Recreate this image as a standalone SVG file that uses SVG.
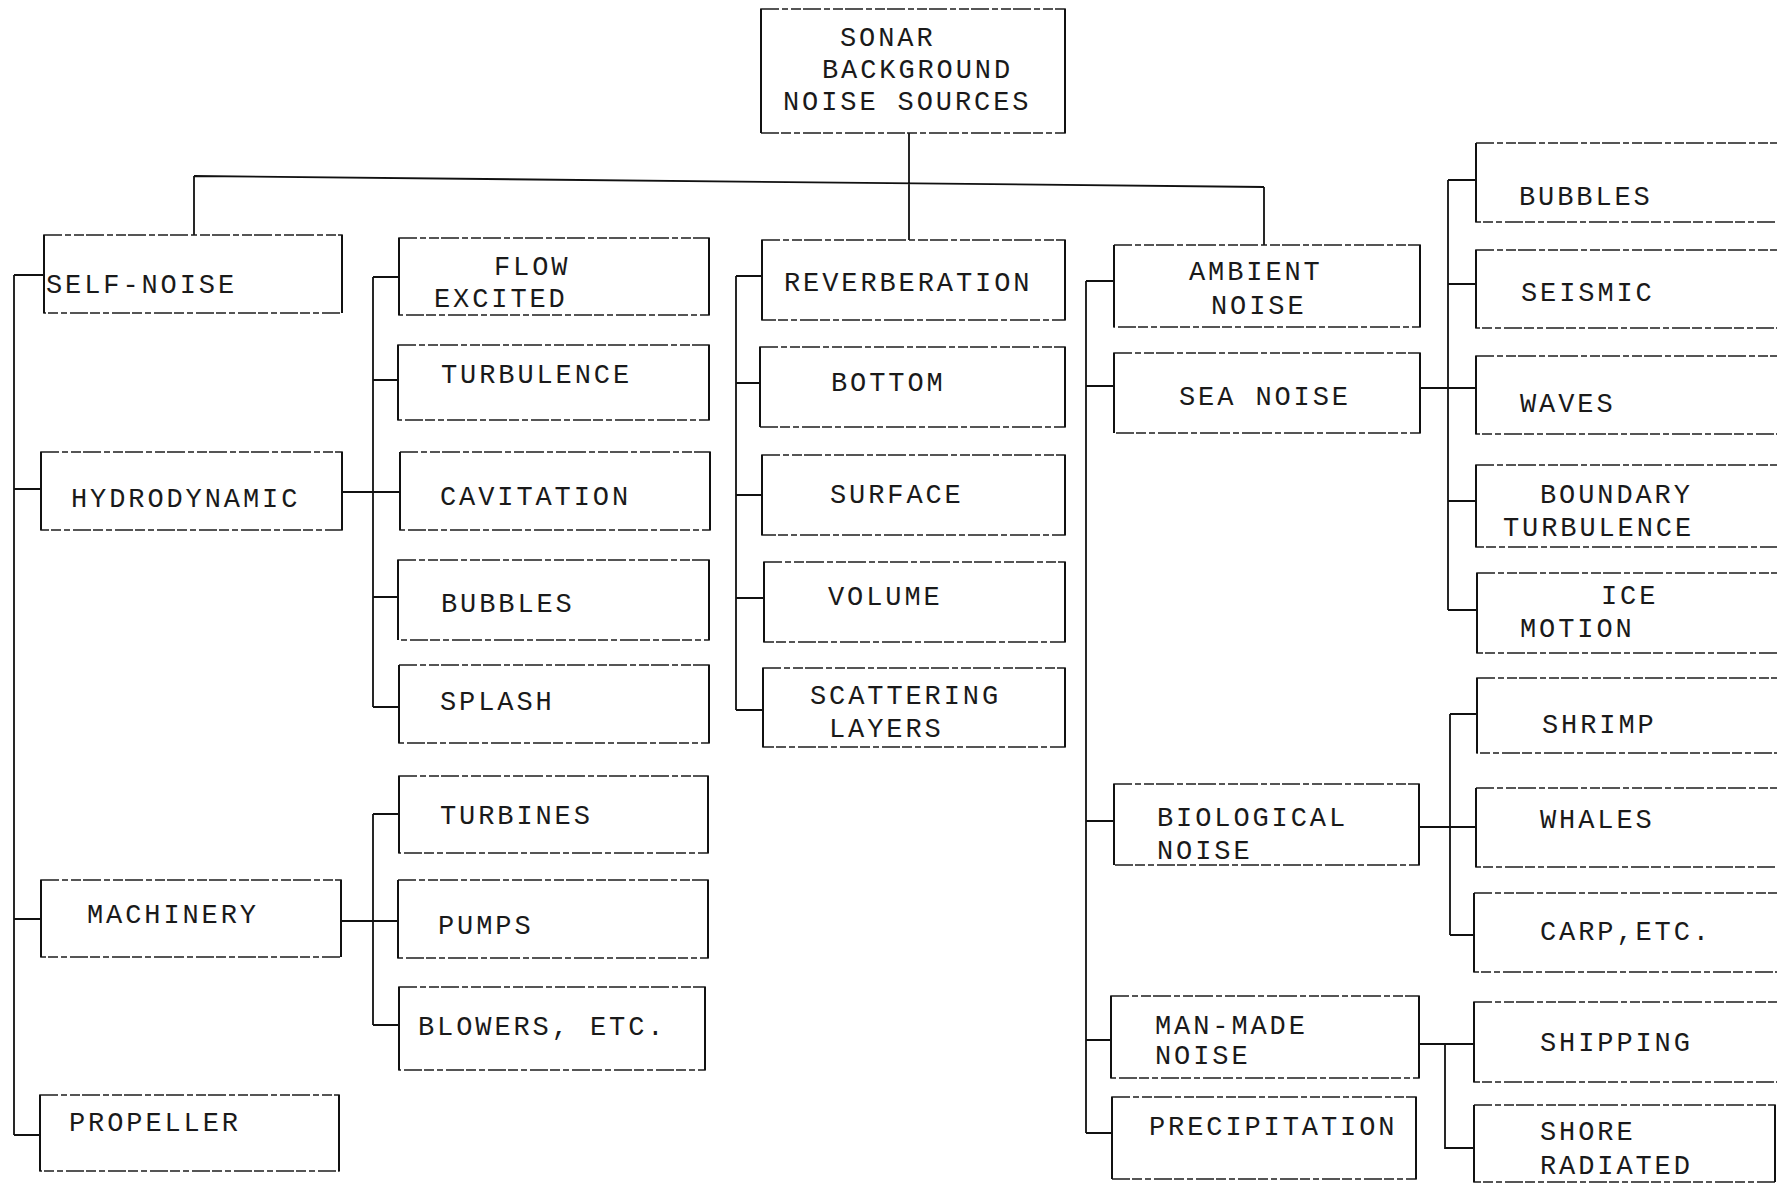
<svg xmlns="http://www.w3.org/2000/svg" width="1777" height="1192" viewBox="0 0 1777 1192">
<style>
.b{fill:none;stroke:#1e1e1e;stroke-width:1.6;stroke-dasharray:18 3 6 3 10 2}
.v{fill:none;stroke:#111;stroke-width:2}
.c{fill:none;stroke:#111;stroke-width:1.8}
text{font-family:"Liberation Mono","DejaVu Sans Mono",monospace;font-size:27px;letter-spacing:2.9px;fill:#1a1a1a}
</style>
<rect width="1777" height="1192" fill="#fff"/>
<g id="connectors">
<path class="c" d="M909 133V240M194 176L1264 187M194 176V235M1264 187V245"/>
<path class="c" d="M14 275V1135M14 275H44M14 489H41M14 919H41M14 1135H40"/>
<path class="c" d="M373 277V707M373 277H399M373 380H398M342 492H400M373 597H398M373 707H399"/>
<path class="c" d="M373 814V1025M373 814H399M341 921H398M373 1025H399"/>
<path class="c" d="M736 276V710M736 276H762M736 383H760M736 495H762M736 598H764M736 710H763"/>
<path class="c" d="M1086 281V1133M1086 281H1114M1086 386H1114M1086 821H1114M1086 1040H1111M1086 1133H1112"/>
<path class="c" d="M1448 180V610M1448 180H1476M1448 284H1476M1420 388H1476M1448 501H1476M1448 610H1477"/>
<path class="c" d="M1450 714V935M1450 714H1477M1419 827H1476M1450 935H1474"/>
<path class="c" d="M1419 1044H1474M1445 1044V1148H1474"/>
</g>
<g id="root"><rect class="b" x="761" y="9" width="304" height="124"/><path class="v" d="M761 9V133M1065 9V133"/>
<text x="840" y="46">SONAR</text><text x="822" y="78">BACKGROUND</text><text x="783" y="110">NOISE SOURCES</text></g>
<g id="self-noise"><rect class="b" x="44" y="235" width="298" height="78"/><path class="v" d="M44 235V313M342 235V313"/><text x="46" y="293">SELF-NOISE</text></g>
<g id="hydrodynamic"><rect class="b" x="41" y="452" width="301" height="78"/><path class="v" d="M41 452V530M342 452V530"/><text x="71" y="507">HYDRODYNAMIC</text></g>
<g id="machinery"><rect class="b" x="41" y="880" width="300" height="77"/><path class="v" d="M41 880V957M341 880V957"/><text x="87" y="923">MACHINERY</text></g>
<g id="propeller"><rect class="b" x="40" y="1095" width="299" height="76"/><path class="v" d="M40 1095V1171M339 1095V1171"/><text x="69" y="1131">PROPELLER</text></g>
<g id="flow-excited"><rect class="b" x="399" y="238" width="310" height="77"/><path class="v" d="M399 238V315M709 238V315"/><text x="494" y="275">FLOW</text><text x="434" y="307">EXCITED</text></g>
<g id="turbulence"><rect class="b" x="398" y="345" width="311" height="75"/><path class="v" d="M398 345V420M709 345V420"/><text x="441" y="383">TURBULENCE</text></g>
<g id="cavitation"><rect class="b" x="400" y="452" width="310" height="78"/><path class="v" d="M400 452V530M710 452V530"/><text x="440" y="505">CAVITATION</text></g>
<g id="bubbles-h"><rect class="b" x="398" y="560" width="311" height="80"/><path class="v" d="M398 560V640M709 560V640"/><text x="441" y="612">BUBBLES</text></g>
<g id="splash"><rect class="b" x="399" y="665" width="310" height="78"/><path class="v" d="M399 665V743M709 665V743"/><text x="440" y="710">SPLASH</text></g>
<g id="turbines"><rect class="b" x="399" y="776" width="309" height="77"/><path class="v" d="M399 776V853M708 776V853"/><text x="440" y="824">TURBINES</text></g>
<g id="pumps"><rect class="b" x="398" y="880" width="310" height="78"/><path class="v" d="M398 880V958M708 880V958"/><text x="438" y="934">PUMPS</text></g>
<g id="blowers"><rect class="b" x="399" y="987" width="306" height="83"/><path class="v" d="M399 987V1070M705 987V1070"/><text x="418" y="1035">BLOWERS, ETC.</text></g>
<g id="reverberation"><rect class="b" x="762" y="240" width="303" height="80"/><path class="v" d="M762 240V320M1065 240V320"/><text x="784" y="291">REVERBERATION</text></g>
<g id="bottom"><rect class="b" x="760" y="347" width="305" height="80"/><path class="v" d="M760 347V427M1065 347V427"/><text x="831" y="391">BOTTOM</text></g>
<g id="surface"><rect class="b" x="762" y="455" width="303" height="80"/><path class="v" d="M762 455V535M1065 455V535"/><text x="830" y="503">SURFACE</text></g>
<g id="volume"><rect class="b" x="764" y="562" width="301" height="80"/><path class="v" d="M764 562V642M1065 562V642"/><text x="828" y="605">VOLUME</text></g>
<g id="scattering"><rect class="b" x="763" y="668" width="302" height="79"/><path class="v" d="M763 668V747M1065 668V747"/><text x="810" y="704">SCATTERING</text><text x="829" y="737">LAYERS</text></g>
<g id="ambient"><rect class="b" x="1114" y="245" width="306" height="82"/><path class="v" d="M1114 245V327M1420 245V327"/><text x="1189" y="280">AMBIENT</text><text x="1211" y="314">NOISE</text></g>
<g id="sea-noise"><rect class="b" x="1114" y="353" width="306" height="80"/><path class="v" d="M1114 353V433M1420 353V433"/><text x="1179" y="405">SEA NOISE</text></g>
<g id="biological"><rect class="b" x="1114" y="784" width="305" height="81"/><path class="v" d="M1114 784V865M1419 784V865"/><text x="1157" y="826">BIOLOGICAL</text><text x="1157" y="859">NOISE</text></g>
<g id="man-made"><rect class="b" x="1111" y="996" width="308" height="82"/><path class="v" d="M1111 996V1078M1419 996V1078"/><text x="1155" y="1034">MAN-MADE</text><text x="1155" y="1064">NOISE</text></g>
<g id="precipitation"><rect class="b" x="1112" y="1097" width="304" height="82"/><path class="v" d="M1112 1097V1179M1416 1097V1179"/><text x="1149" y="1135">PRECIPITATION</text></g>
<g id="bubbles-s"><rect class="b" x="1476" y="143" width="320" height="79"/><path class="v" d="M1476 143V222"/><text x="1519" y="205">BUBBLES</text></g>
<g id="seismic"><rect class="b" x="1476" y="250" width="320" height="78"/><path class="v" d="M1476 250V328"/><text x="1521" y="301">SEISMIC</text></g>
<g id="waves"><rect class="b" x="1476" y="356" width="320" height="78"/><path class="v" d="M1476 356V434"/><text x="1520" y="412">WAVES</text></g>
<g id="boundary"><rect class="b" x="1476" y="465" width="320" height="82"/><path class="v" d="M1476 465V547"/><text x="1540" y="503">BOUNDARY</text><text x="1503" y="536">TURBULENCE</text></g>
<g id="ice-motion"><rect class="b" x="1477" y="573" width="320" height="80"/><path class="v" d="M1477 573V653"/><text x="1601" y="604">ICE</text><text x="1520" y="637">MOTION</text></g>
<g id="shrimp"><rect class="b" x="1477" y="678" width="320" height="75"/><path class="v" d="M1477 678V753"/><text x="1542" y="733">SHRIMP</text></g>
<g id="whales"><rect class="b" x="1476" y="788" width="320" height="79"/><path class="v" d="M1476 788V867"/><text x="1540" y="828">WHALES</text></g>
<g id="carp"><rect class="b" x="1474" y="893" width="320" height="79"/><path class="v" d="M1474 893V972"/><text x="1540" y="940">CARP,ETC.</text></g>
<g id="shipping"><rect class="b" x="1474" y="1002" width="320" height="80"/><path class="v" d="M1474 1002V1082"/><text x="1540" y="1051">SHIPPING</text></g>
<g id="shore"><rect class="b" x="1474" y="1105" width="301" height="77"/><path class="v" d="M1474 1105V1182M1775 1105V1182"/><text x="1540" y="1140">SHORE</text><text x="1540" y="1174">RADIATED</text></g>
</svg>
